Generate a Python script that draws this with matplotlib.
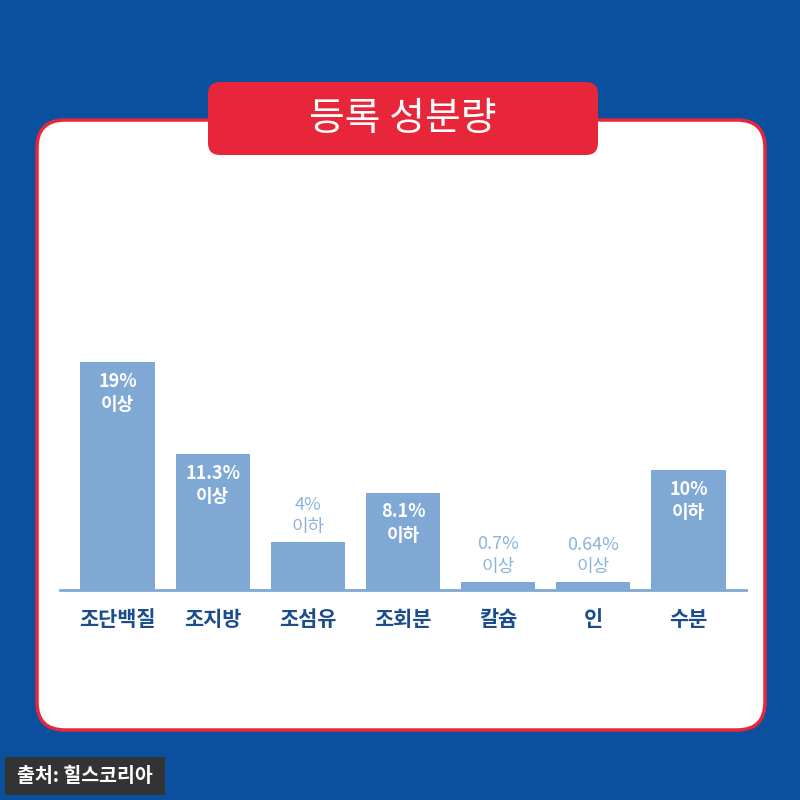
import matplotlib
matplotlib.use("Agg")
import matplotlib.pyplot as plt
from matplotlib.patches import FancyBboxPatch, Rectangle

plt.rcParams['font.family'] = ['Noto Sans CJK KR', 'DejaVu Sans']

categories = ["조단백질", "조지방", "조섬유", "조회분", "칼슘", "인", "수분"]
values = [19, 11.3, 4, 8.1, 0.7, 0.64, 10]
value_labels = ["19%\n이상", "11.3%\n이상", "4%\n이하", "8.1%\n이하", "0.7%\n이상", "0.64%\n이상", "10%\n이하"]
inside = [True, True, False, True, False, False, True]

BG = "#0b4f9f"
BAR = "#7fa8d5"
RED = "#e8263a"
DARK = "#1b4c8c"

fig = plt.figure(figsize=(8, 8), dpi=100)
fig.patch.set_facecolor(BG)
W = 800.0
def fx(x): return x / W
def fy(y): return 1 - y / W

panel = FancyBboxPatch((fx(37), fy(730)), fx(728), fy(120) - fy(730),
                       boxstyle="round,pad=0,rounding_size=0.035", transform=fig.transFigure,
                       facecolor="white", edgecolor=RED, linewidth=2.5, zorder=-2)
fig.patches.append(panel)
title = FancyBboxPatch((fx(208), fy(155)), fx(390), fy(82) - fy(155),
                       boxstyle="round,pad=0,rounding_size=0.015", transform=fig.transFigure,
                       facecolor=RED, edgecolor="none", zorder=-1)
fig.patches.append(title)
fig.text(fx(403), fy(119), "등록 성분량", color="white", fontsize=28, ha="center", va="center")

ax = fig.add_axes([fx(70), fy(590), fx(666), 0.375])
ax.set_xlim(-0.5, len(categories) - 0.5)
ax.set_ylim(0, 25)
ax.axis("off")
x = range(len(categories))
ax.bar(x, values, width=0.78, color=BAR)
for i, (v, lab, ins) in enumerate(zip(values, value_labels, inside)):
    if ins:
        ax.text(i, v - 0.8, lab, ha="center", va="top", color="white", fontsize=13,
                fontweight="bold", linespacing=1.3)
    else:
        ax.text(i, v + 0.5, lab, ha="center", va="bottom", color="#8fb2db", fontsize=13,
                linespacing=1.3)
    ax.text(i, -1.6, categories[i], ha="center", va="top", color=DARK, fontsize=15,
            fontweight="bold")
ax.plot([-0.6, 6.6], [0, 0], color=BAR, lw=2, clip_on=False)

src = Rectangle((fx(5), fy(795)), fx(160), fy(757) - fy(795), transform=fig.transFigure,
                facecolor="#333333", edgecolor="none")
fig.patches.append(src)
fig.text(fx(85), fy(776), "출처: 힐스코리아", color="white", fontsize=14, fontweight="bold",
         ha="center", va="center")

fig.savefig("out.png", dpi=100, facecolor=BG)
